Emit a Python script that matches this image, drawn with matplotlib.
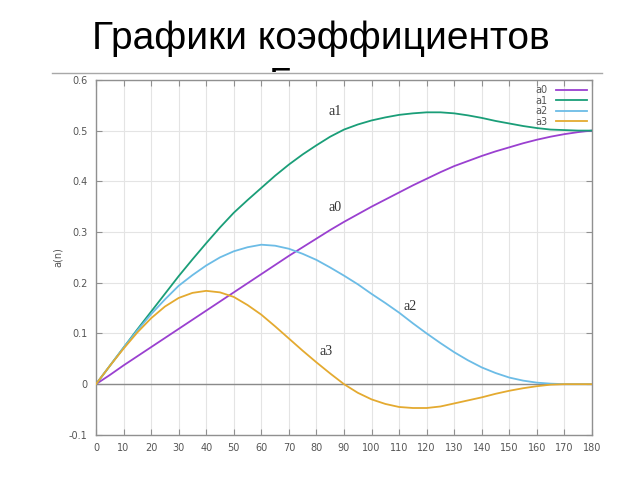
import matplotlib
matplotlib.use("Agg")
import matplotlib.pyplot as plt
from matplotlib.lines import Line2D
from matplotlib.patches import Rectangle

x = list(range(0, 181, 5))
a0 = [0, 0.018, 0.037, 0.055, 0.073, 0.091, 0.109, 0.127, 0.145, 0.163, 0.181, 0.199, 0.217,
      0.235, 0.253, 0.27, 0.287, 0.304, 0.32, 0.335, 0.35, 0.364, 0.378, 0.392, 0.405, 0.418,
      0.43, 0.44, 0.45, 0.459, 0.467, 0.475, 0.482, 0.488, 0.493, 0.497, 0.5]
a1 = [0, 0.036, 0.072, 0.108, 0.143, 0.178, 0.213, 0.246, 0.278, 0.309, 0.338, 0.363, 0.387,
      0.411, 0.433, 0.453, 0.471, 0.488, 0.502, 0.512, 0.52, 0.526, 0.531, 0.534, 0.536, 0.536,
      0.534, 0.53, 0.525, 0.519, 0.514, 0.509, 0.505, 0.502, 0.501, 0.5, 0.5]
a2 = [0, 0.036, 0.072, 0.106, 0.138, 0.167, 0.194, 0.215, 0.234, 0.25, 0.262, 0.27, 0.275,
      0.273, 0.267, 0.257, 0.245, 0.23, 0.214, 0.197, 0.178, 0.16, 0.141, 0.12, 0.1, 0.081,
      0.063, 0.047, 0.033, 0.022, 0.013, 0.007, 0.003, 0.001, 0, 0, 0]
a3 = [0, 0.036, 0.07, 0.102, 0.13, 0.153, 0.17, 0.18, 0.184, 0.181, 0.172, 0.156, 0.137,
      0.114, 0.09, 0.066, 0.043, 0.021, 0.0, -0.017, -0.03, -0.039, -0.045, -0.047, -0.047,
      -0.044, -0.038, -0.032, -0.026, -0.019, -0.013, -0.008, -0.004, -0.001, 0, 0, 0]

names = ["a0", "a1", "a2", "a3"]
colors = ["#9a40d0", "#1a9e78", "#6cbce6", "#e4aa30"]
curve_labels = {"a1": (86.7, 0.524), "a0": (86.7, 0.335), "a2": (114, 0.14), "a3": (83.5, 0.051)}
title_line1 = "Графики коэффициентов"
title_line2 = "Безье"

fig = plt.figure(figsize=(6.4, 4.8), dpi=100)
fig.patch.set_facecolor("white")

# Second title line, mostly hidden behind the chart area
fig.text(0.502, 1 - 95 / 480, title_line2, ha="center", va="baseline", fontsize=28,
         family="Liberation Sans", color="black", zorder=0.2)
fig.add_artist(Rectangle((0, 0), 1, 1 - 72.3 / 480, transform=fig.transFigure,
                         facecolor="white", edgecolor="none", zorder=0.5))
fig.text(0.502, 1 - 49.3 / 480, title_line1, ha="center", va="baseline", fontsize=28,
         family="Liberation Sans", color="black", zorder=3)
fig.add_artist(Line2D([52 / 640, 602 / 640], [1 - 73 / 480] * 2, color="#a8a8a8", lw=1.0,
                      transform=fig.transFigure, zorder=3))

ax = fig.add_axes([0.15, 0.094, 0.775, 0.7396])
ax.set_zorder(1)
for ys, c, n in zip([a0, a1, a2, a3], colors, names):
    ax.plot(x, ys, color=c, lw=1.3, label=n, zorder=3)

ax.axhline(0, color="#8a8a8a", lw=1.0, zorder=2)
ax.set_xlim(0, 180)
ax.set_ylim(-0.1, 0.6)
ax.set_xticks(range(0, 181, 10))
ax.set_yticks([-0.1, 0, 0.1, 0.2, 0.3, 0.4, 0.5, 0.6])
ax.set_yticklabels(["-0.1", "0", "0.1", "0.2", "0.3", "0.4", "0.5", "0.6"])
ax.grid(True, color="#e4e4e4", lw=0.8, zorder=0)
ax.tick_params(direction="in", length=4, width=0.8, colors="#909090", labelcolor="#555555",
               labelsize=7, top=True, right=True, pad=6)
for s in ax.spines.values():
    s.set_color("#909090")
    s.set_linewidth(1.0)
ax.set_ylabel("a(n)", fontsize=7, color="#555555", labelpad=4)

for n, (tx, ty) in curve_labels.items():
    ax.text(tx, ty, n, fontsize=10, family="Liberation Serif", color="#333333",
            ha="center", va="bottom")

leg = ax.legend(loc="upper right", frameon=False, fontsize=7, markerfirst=False,
                handlelength=3.2, labelspacing=0.05, borderaxespad=0.15, handletextpad=0.8)
for t in leg.get_texts():
    t.set_color("#555555")

fig.savefig("out.png", dpi=100)
